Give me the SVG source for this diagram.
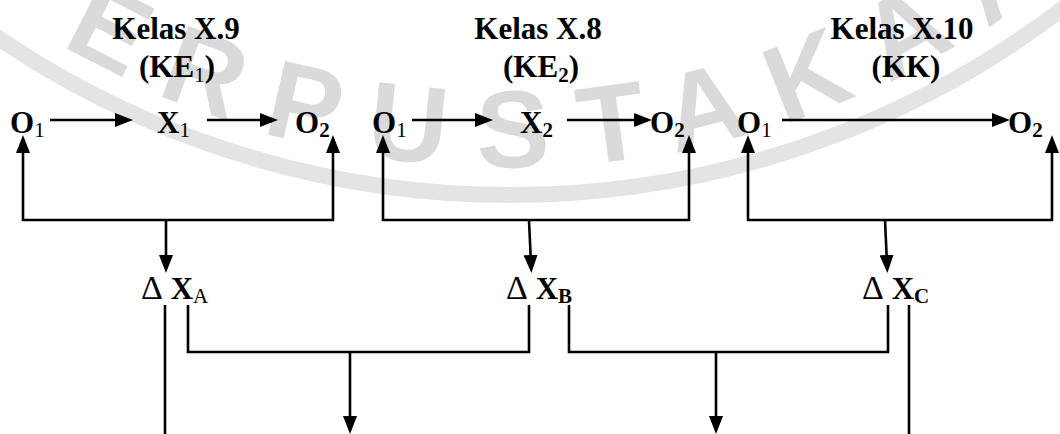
<svg xmlns="http://www.w3.org/2000/svg" width="1060" height="434" viewBox="0 0 1060 434">
<defs>
<marker id="ah" viewBox="0 0 18 14" refX="9" refY="7" markerWidth="18" markerHeight="14" markerUnits="userSpaceOnUse" orient="auto-start-reverse">
<path d="M0,0 L18,7 L0,14 z" fill="#000"/>
</marker>
<path id="wmArc" d="M-56,-39 A880,880 0 0,0 1076,-39"/>
<style>
text{font-family:"Liberation Serif","Times New Roman",serif;font-size:31px;font-weight:bold;fill:#000}
.t{text-anchor:middle}
.s{font-size:21px}
.n{font-weight:normal}
.d{font-weight:normal;font-size:34px}
.c path{fill:none;stroke:#000;stroke-width:2.6}
.a{marker-end:url(#ah)}
.b{marker-start:url(#ah);marker-end:url(#ah)}
.wm{font-family:"Liberation Sans",Arial,sans-serif;font-size:110px;font-weight:bold;fill:#dadada;letter-spacing:33px}
</style>
</defs>
<rect width="1060" height="434" fill="#fff"/>
<g id="watermark">
<path d="M-60,-5 A912,912 0 0,0 1080,-5" fill="none" stroke="#e4e4e4" stroke-width="16"/>
<text class="wm" text-anchor="middle"><textPath href="#wmArc" startOffset="690">PERPUSTAKAAN</textPath></text>
</g>
<g id="title1"><text class="t" x="176" y="39">Kelas X.9</text><text class="t" x="177" y="77">(KE<tspan class="s n" dy="5">1</tspan><tspan dy="-5">)</tspan></text></g>
<g id="title2"><text class="t" x="538" y="39">Kelas X.8</text><text class="t" x="541" y="77">(KE<tspan class="s" dy="5">2</tspan><tspan dy="-5">)</tspan></text></g>
<g id="title3"><text class="t" x="902" y="39">Kelas X.10</text><text class="t" x="906" y="77">(KK)</text></g>
<g id="g1-o1"><text x="10" y="133">O<tspan class="s n" dy="4">1</tspan></text></g>
<g id="g1-x1"><text x="157" y="133">X<tspan class="s n" dy="4">1</tspan></text></g>
<g id="g1-o2"><text x="295" y="133">O<tspan class="s" dy="4">2</tspan></text></g>
<g id="g2-o1"><text x="372" y="133">O<tspan class="s n" dy="4">1</tspan></text></g>
<g id="g2-x2"><text x="520" y="133">X<tspan class="s" dy="4">2</tspan></text></g>
<g id="g2-o2"><text x="650" y="133">O<tspan class="s" dy="4">2</tspan></text></g>
<g id="g3-o1"><text x="737" y="133">O<tspan class="s n" dy="4">1</tspan></text></g>
<g id="g3-o2"><text x="1008" y="133">O<tspan class="s" dy="4">2</tspan></text></g>
<g id="dxa"><text x="141" y="299"><tspan class="d">Δ</tspan> X<tspan class="s n" dy="4">A</tspan></text></g>
<g id="dxb"><text x="506" y="299"><tspan class="d">Δ</tspan> X<tspan class="s" dy="4">B</tspan></text></g>
<g id="dxc"><text x="862" y="299"><tspan class="d">Δ</tspan> X<tspan class="s" dy="4">C</tspan></text></g>
<g id="connectors" class="c">
<path class="a" d="M50,120 H124"/>
<path class="a" d="M207,120 H269"/>
<path class="a" d="M412,120 H484"/>
<path class="a" d="M567,120 H643"/>
<path class="a" d="M782,120 H1001"/>
<path class="b" d="M23,144 V220 H333 V144"/>
<path class="b" d="M383,144 V220 H689 V144"/>
<path class="b" d="M748,144 V220 H1052 V144"/>
<path class="a" d="M166,220 V264"/>
<path class="a" d="M529,220 L531,264"/>
<path class="a" d="M885,220 L887,264"/>
<path d="M165,305 V434"/>
<path d="M188,305 V352 H529 V305"/>
<path class="a" d="M350,352 V425"/>
<path d="M569,305 V352 H888 V305"/>
<path class="a" d="M716,352 V425"/>
<path d="M909,305 V434"/>
</g>
</svg>
